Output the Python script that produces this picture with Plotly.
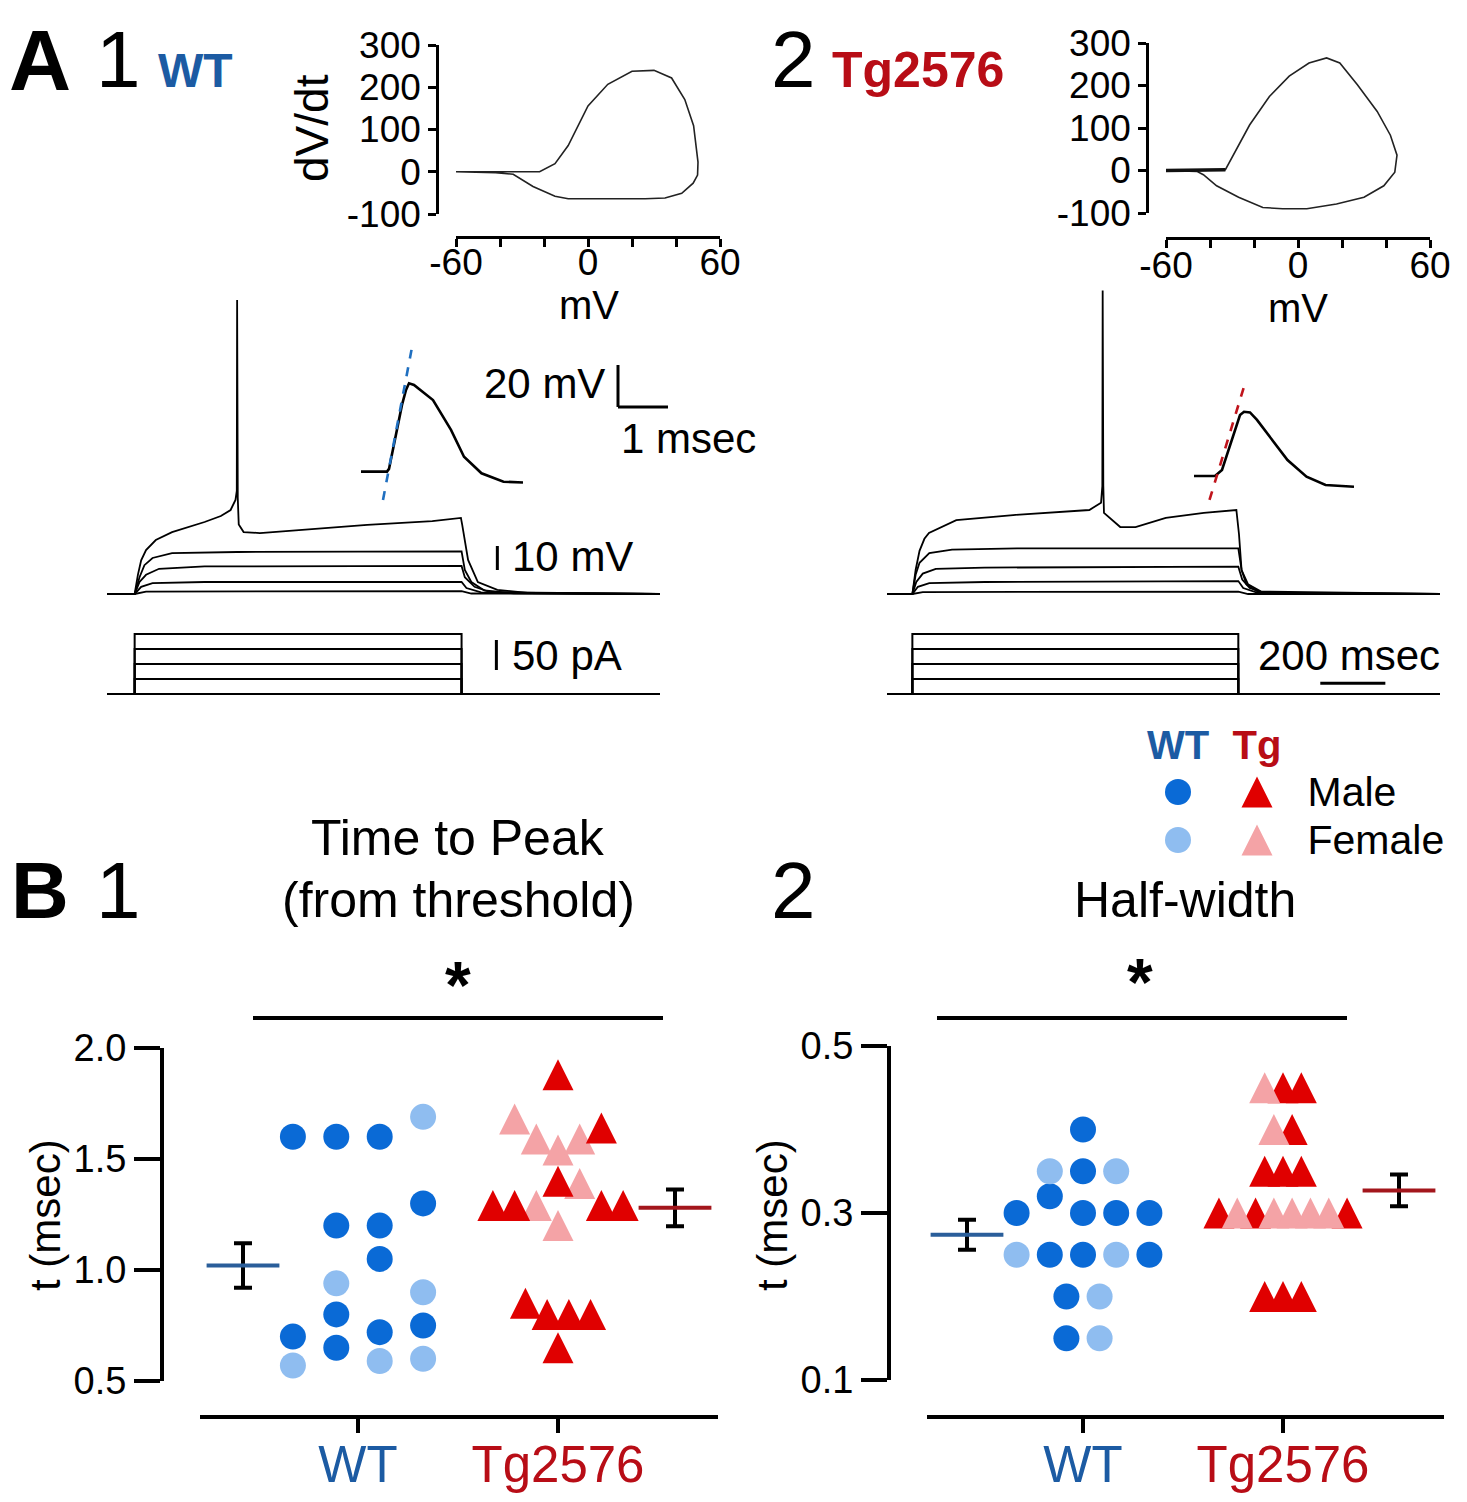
import plotly.graph_objects as go

W, H = 1467, 1502
FONT = "Liberation Sans"

# colours
BLUE_M = "#0a6ad6"
BLUE_F = "#8fbdf0"
RED_M = "#e00000"
RED_F = "#f4a3a6"
BLUE_TXT = "#1c5ba3"
RED_TXT = "#b80d16"
BLUE_MEAN = "#2a5e9a"
RED_MEAN = "#a3161c"

# ---------- A: phase plots (mV, dV/dt) ----------
wt_phase_v = [-60, -45, -30, -22, -15, -9, 0, 9, 20, 30, 38, 44, 48, 49.5, 50, 49.8,
              47.8, 42.6, 35, 26, 11, -9, -15, -25, -34, -42, -60]
wt_phase_dvdt = [0, 0, 0, 0, 19, 62, 156, 207, 238, 240, 222, 171, 109, 47, 23, -8,
                 -27, -51, -62, -64, -64, -64, -58, -35, -6, -2, 0]
tg_phase_v = [-60, -45, -33, -28, -22, -13, -4, 5, 13, 19, 27, 36, 42, 45, 44, 39,
              30, 17.5, 4, -7, -16, -27, -37, -43, -46, -60]
tg_phase_dvdt = [0, 0, 2, 51, 107, 174, 222, 253, 265, 253, 202, 139, 83, 36, -4, -36,
                 -63, -79, -90, -90, -87, -63, -36, -10, -2, 0]
phase_xticks = [-60, -40, -20, 0, 20, 40, 60]
phase_xlabels = ["-60", "", "", "0", "", "", "60"]
phase_yticks = [-100, 0, 100, 200, 300]
phase_ylabels = ["-100", "0", "100", "200", "300"]

# ---------- A: voltage responses (ms, mV) ----------
wt_t1 = [0, 85, 95, 105, 120, 150, 200, 250, 300, 350, 380, 395, 399, 400, 402, 405, 420,
         470, 600, 800, 1000, 1088, 1092, 1110, 1140, 1200, 1300, 1700]
wt_v1 = [-65, -65, -57, -51, -46.7, -42.5, -39.2, -37.1, -35, -32.5, -30, -25.8, -22, 57.5,
         -25, -36, -39.2, -39.6, -38.3, -36.2, -34.6, -33.3, -36.2, -50.8, -60, -63.3, -64.6, -65]
wt_t2 = [0, 85, 100, 115, 140, 200, 400, 1090, 1100, 1120, 1160, 1250, 1700]
wt_v2 = [-65, -65, -58, -53, -50, -48, -47.5, -47.2, -55, -60, -63.5, -64.7, -65]
wt_t3 = [0, 85, 100, 120, 160, 300, 1090, 1100, 1130, 1180, 1700]
wt_v3 = [-65, -65, -60, -57, -54.5, -53.5, -53.3, -58, -62, -64.3, -65]
wt_t4 = [0, 85, 105, 140, 300, 1090, 1105, 1150, 1700]
wt_v4 = [-65, -65, -62, -60.5, -60, -60, -62.5, -64.3, -65]
wt_t5 = [0, 85, 120, 1090, 1120, 1700]
wt_v5 = [-65, -65, -64, -63.8, -64.8, -65]

tg_t1 = [0, 78, 88, 100, 115, 129, 213, 388, 622, 658, 662, 663, 665, 667, 717, 764, 857,
         974, 1074, 1082, 1090, 1105, 1140, 1200, 1700]
tg_v1 = [-65, -65, -55, -47, -42, -39.6, -34.2, -32.1, -30, -27, -20, 61.5, -20, -31.2,
         -37.1, -37.1, -33.3, -31.2, -30, -40, -55, -61, -64, -65, -65]
tg_t2 = [0, 78, 88, 100, 130, 200, 400, 1080, 1090, 1110, 1150, 1700]
tg_v2 = [-65, -65, -57, -52, -48, -46.5, -46, -46, -55, -61, -64, -65]
tg_t3 = [0, 78, 90, 110, 150, 300, 1080, 1092, 1115, 1160, 1700]
tg_v3 = [-65, -65, -60, -56.5, -54.5, -54, -53.6, -59, -62.5, -64.5, -65]
tg_t4 = [0, 78, 95, 130, 300, 1080, 1095, 1140, 1700]
tg_v4 = [-65, -65, -62, -60.5, -60, -59.6, -62.5, -64.5, -65]
tg_t5 = [0, 78, 110, 1080, 1110, 1700]
tg_v5 = [-65, -65, -64.2, -64, -65, -65]

# current steps (pA) and step timing (ms)
step_pA = [25, 50, 75, 100]
wt_step_on, wt_step_off = 85, 1090
tg_step_on, tg_step_off = 78, 1080
sweep_end = 1700

# ---------- A: single action potential insets (ms, mV) ----------
wt_ap_t = [0.42, 0.94, 0.98, 1.10, 1.24, 1.32, 1.38, 1.48, 1.60, 1.86, 2.22, 2.48, 2.83, 3.27, 3.66]
wt_ap_v = [-30, -30, -28.7, -14.9, 1.8, 8.9, 12.1, 11.3, 8.9, 4.1, -10.1, -22.9, -30.8, -34.8, -35.2]
wt_slope_t = [0.86, 1.43]
wt_slope_v = [-43.5, 28]
tg_ap_t = [0.48, 0.90, 1.04, 1.24, 1.40, 1.48, 1.60, 1.74, 2.04, 2.35, 2.73, 3.11, 3.68]
tg_ap_v = [-30, -30, -27.1, -12.9, -0.95, 0.6, 0.3, -3.3, -12.9, -22.4, -30.3, -34.3, -35.1]
tg_slope_t = [0.79, 1.51]
tg_slope_v = [-41.4, 14.9]

# ---------- B1: time to peak (msec) ----------
ttp_wt_m = [1.60, 1.60, 1.60, 1.20, 1.20, 1.05, 1.30, 0.80, 0.70, 0.65, 0.72, 0.75]
ttp_wt_m_slot = [-3, -1, 1, -1, 1, 1, 3, -1, -3, -1, 1, 3]
ttp_wt_f = [1.69, 0.94, 0.90, 0.57, 0.59, 0.60]
ttp_wt_f_slot = [3, -1, 3, -3, 1, 3]
ttp_tg_m = [1.88, 1.64, 1.40, 1.29, 1.29, 1.29, 1.29, 0.85, 0.80, 0.80, 0.80, 0.65]
ttp_tg_m_slot = [0, 2, 0, -3, -2, 2, 3, -1.5, -0.5, 0.5, 1.5, 0]
ttp_tg_f = [1.68, 1.59, 1.54, 1.59, 1.39, 1.29, 1.20]
ttp_tg_f_slot = [-2, -1, 0, 1, 1, -1, 0]
ttp_mean = [1.02, 1.28]
ttp_sem = [0.10, 0.083]

# ---------- B2: half-width (msec) ----------
hw_wt_m = [0.40, 0.35, 0.32, 0.30, 0.30, 0.30, 0.30, 0.25, 0.25, 0.25, 0.20, 0.15]
hw_wt_m_slot = [0, 0, -2, -4, 0, 2, 4, -2, 0, 4, -1, -1]
hw_wt_f = [0.35, 0.35, 0.25, 0.25, 0.20, 0.15]
hw_wt_f_slot = [-2, 2, -4, 2, 1, 1]
hw_tg_m = [0.45, 0.45, 0.40, 0.35, 0.35, 0.35, 0.30, 0.30, 0.30, 0.20, 0.20, 0.20]
hw_tg_m_slot = [0, 2, 1, -2, 0, 2, -7, -3, 7, -2, 0, 2]
hw_tg_f = [0.45, 0.40, 0.30, 0.30, 0.30, 0.30, 0.30]
hw_tg_f_slot = [-2, -1, -5, -1, 1, 3, 5]
hw_mean = [0.274, 0.327]
hw_sem = [0.018, 0.019]

legend_groups = ["WT", "Tg"]
legend_sexes = ["Male", "Female"]


def px(x):
    return x / W


def py(y):
    return 1 - y / H


fig = go.Figure()


def line(xs, ys, ax, width=2.0, color="black", dash=None):
    fig.add_trace(go.Scatter(x=xs, y=ys, mode="lines", xaxis="x" + ax, yaxis="y" + ax,
                             line=dict(color=color, width=width, dash=dash),
                             hoverinfo="skip", showlegend=False))


# phase plots
line(wt_phase_v, wt_phase_dvdt, "1", width=1.6, color="#222")
line(tg_phase_v, tg_phase_dvdt, "2", width=1.6, color="#222")
line(tg_phase_v[:3], tg_phase_dvdt[:3], "2", width=3.5, color="#111")

# voltage sweeps
for t, v in [(wt_t1, wt_v1), (wt_t2, wt_v2), (wt_t3, wt_v3), (wt_t4, wt_v4), (wt_t5, wt_v5)]:
    line(t, v, "3", width=1.8)
for t, v in [(tg_t1, tg_v1), (tg_t2, tg_v2), (tg_t3, tg_v3), (tg_t4, tg_v4), (tg_t5, tg_v5)]:
    line(t, v, "6", width=1.8)

# current steps
for ax, on, off in [("4", wt_step_on, wt_step_off), ("7", tg_step_on, tg_step_off)]:
    line([0, sweep_end], [0, 0], ax, width=2.2)
    for amp in step_pA:
        line([0, on, on, off, off, sweep_end], [0, 0, amp, amp, 0, 0], ax, width=2.0)

# AP insets
line(wt_ap_t, wt_ap_v, "5", width=2.6)
line(wt_slope_t, wt_slope_v, "5", width=2.6, color="#1f6fc0", dash="dash")
line(tg_ap_t, tg_ap_v, "8", width=2.6)
line(tg_slope_t, tg_slope_v, "8", width=2.6, color="#c0141c", dash="dash")

CIRC, TRI = 26, 31


def marker_style(kind, color):
    # GraphPad-like triangles: a flipped arrow-down, pushed back so it is centred on the point
    if kind == "tri":
        return dict(symbol="arrow-down", angle=180, standoff=TRI / 2, size=TRI, color=color,
                    opacity=1, line=dict(width=0))
    return dict(symbol="circle", size=CIRC, color=color, opacity=1, line=dict(width=0))


def swarm(vals, slots, center, spacing, ax, kind, color):
    fig.add_trace(go.Scatter(
        x=[center + s * spacing for s in slots], y=vals, mode="markers",
        xaxis="x" + ax, yaxis="y" + ax, cliponaxis=False, showlegend=False,
        marker=marker_style(kind, color)))


def mean_bar(pos, mean, sem, ax, color):
    fig.add_trace(go.Scatter(
        x=[pos], y=[mean], mode="markers", xaxis="x" + ax, yaxis="y" + ax,
        cliponaxis=False, showlegend=False,
        error_y=dict(type="data", array=[sem], color="black", thickness=4, width=9),
        marker=dict(symbol="line-ew", size=52, line=dict(width=4, color=color))))


# B1
swarm(ttp_wt_m, ttp_wt_m_slot, 0, 0.1085, "9", "circ", BLUE_M)
swarm(ttp_wt_f, ttp_wt_f_slot, 0, 0.1085, "9", "circ", BLUE_F)
swarm(ttp_tg_f, ttp_tg_f_slot, 1, 0.1085, "9", "tri", RED_F)
swarm(ttp_tg_m, ttp_tg_m_slot, 1, 0.1085, "9", "tri", RED_M)
mean_bar(-0.575, ttp_mean[0], ttp_sem[0], "9", BLUE_MEAN)
mean_bar(1.585, ttp_mean[1], ttp_sem[1], "9", RED_MEAN)
# B2
swarm(hw_wt_m, hw_wt_m_slot, 0, 0.083, "10", "circ", BLUE_M)
swarm(hw_wt_f, hw_wt_f_slot, 0, 0.083, "10", "circ", BLUE_F)
swarm(hw_tg_m, hw_tg_m_slot, 1, 0.04575, "10", "tri", RED_M)
swarm(hw_tg_f, hw_tg_f_slot, 1, 0.04575, "10", "tri", RED_F)
mean_bar(-0.58, hw_mean[0], hw_sem[0], "10", BLUE_MEAN)
mean_bar(1.58, hw_mean[1], hw_sem[1], "10", RED_MEAN)

# legend grid (group x sex)
for sex, cols in [("Male", (BLUE_M, RED_M)), ("Female", (BLUE_F, RED_F))]:
    for grp, kind, col in zip(legend_groups, ("circ", "tri"), cols):
        fig.add_trace(go.Scatter(x=[grp], y=[sex], mode="markers", xaxis="x11", yaxis="y11",
                                 cliponaxis=False, showlegend=False, marker=marker_style(kind, col)))

hidden = dict(visible=False, showgrid=False, zeroline=False, fixedrange=True, automargin=False)


def dom_x(a, b):
    return [px(a), px(b)]


def dom_y(top, bottom):
    return [py(bottom), py(top)]


phase_common = dict(showline=True, linecolor="black", linewidth=2.5, ticks="outside", ticklen=8,
                    tickwidth=2.5, tickcolor="black", showgrid=False, zeroline=False,
                    automargin=False, tickfont=dict(size=37, color="black", family=FONT),
                    anchor="free")
B_common = dict(showline=True, linecolor="black", linewidth=4, ticks="outside", tickwidth=4,
                tickcolor="black", showgrid=False, zeroline=False, anchor="free", automargin=False,
                tickfont=dict(size=38, color="black", family=FONT))
group_ticktext = [f"<span style='color:{BLUE_TXT}'>WT</span>",
                  f"<span style='color:{RED_TXT}'>Tg2576</span>"]

layout = dict(
    width=W, height=H, margin=dict(l=0, r=0, t=0, b=0, pad=0, autoexpand=False),
    paper_bgcolor="white", plot_bgcolor="rgba(0,0,0,0)",
    font=dict(family=FONT, color="black"),
    showlegend=False,
    # phase WT
    xaxis=dict(domain=dom_x(456, 720), range=[-60, 60], tickvals=phase_xticks, ticktext=phase_xlabels,
               position=py(237), ticklabelstandoff=-16, **phase_common),
    yaxis=dict(domain=dom_y(45, 214), range=[-100, 300], tickvals=phase_yticks, ticktext=phase_ylabels,
               position=px(437), **phase_common),
    # phase Tg
    xaxis2=dict(domain=dom_x(1166, 1430), range=[-60, 60], tickvals=phase_xticks, ticktext=phase_xlabels,
                position=py(238), ticklabelstandoff=-14, **phase_common),
    yaxis2=dict(domain=dom_y(43, 213), range=[-100, 300], tickvals=phase_yticks, ticktext=phase_ylabels,
                position=px(1147), **phase_common),
    # sweeps
    xaxis3=dict(domain=dom_x(107, 660), range=[0, 1700], anchor="y3", **hidden),
    yaxis3=dict(domain=dom_y(285, 600), range=[-67.5, 63.75], anchor="x3", **hidden),
    xaxis4=dict(domain=dom_x(107, 660), range=[0, 1700], anchor="y4", **hidden),
    yaxis4=dict(domain=dom_y(625, 700), range=[-10, 115], anchor="x4", **hidden),
    xaxis5=dict(domain=dom_x(340, 680), range=[0, 6.8], anchor="y5", **hidden),
    yaxis5=dict(domain=dom_y(340, 505), range=[-45.9, 32.7], anchor="x5", **hidden),
    xaxis6=dict(domain=dom_x(887, 1440), range=[0, 1700], anchor="y6", **hidden),
    yaxis6=dict(domain=dom_y(285, 600), range=[-67.5, 63.75], anchor="x6", **hidden),
    xaxis7=dict(domain=dom_x(887, 1440), range=[0, 1700], anchor="y7", **hidden),
    yaxis7=dict(domain=dom_y(625, 700), range=[-10, 115], anchor="x7", **hidden),
    xaxis8=dict(domain=dom_x(1170, 1400), range=[0, 4.6], anchor="y8", **hidden),
    yaxis8=dict(domain=dom_y(370, 505), range=[-43.8, 20.48], anchor="x8", **hidden),
    # B1
    xaxis9=dict(domain=dom_x(200, 718), range=[-0.79, 1.8], tickvals=[0, 1], ticklen=14,
                ticktext=group_ticktext, position=py(1417), ticklabelstandoff=-12,
                **{**B_common, "tickfont": dict(size=51, family=FONT)}),
    yaxis9=dict(domain=dom_y(1048, 1381), range=[0.5, 2.0], tickvals=[0.5, 1.0, 1.5, 2.0],
                ticktext=["0.5", "1.0", "1.5", "2.0"], ticklen=26, position=px(162), **B_common),
    # B2
    xaxis10=dict(domain=dom_x(927, 1444), range=[-0.78, 1.805], tickvals=[0, 1], ticklen=14,
                 ticktext=group_ticktext, position=py(1417), ticklabelstandoff=-12,
                 **{**B_common, "tickfont": dict(size=51, family=FONT)}),
    yaxis10=dict(domain=dom_y(1046, 1380), range=[0.1, 0.5], tickvals=[0.1, 0.3, 0.5],
                 ticktext=["0.1", "0.3", "0.5"], ticklen=26, position=px(889), **B_common),
    # legend grid
    xaxis11=dict(domain=dom_x(1138.5, 1296.5), type="category", categoryorder="array",
                 categoryarray=legend_groups, range=[-0.5, 1.5], anchor="y11", side="top",
                 showline=False, ticks="", showgrid=False, zeroline=False, tickmode="array",
                 tickvals=legend_groups,
                 ticktext=[f"<b><span style='color:{BLUE_TXT}'>WT</span></b>",
                           f"<b><span style='color:{RED_TXT}'>Tg</span></b>"],
                 tickfont=dict(size=40, family=FONT), fixedrange=True, automargin=False),
    yaxis11=dict(domain=dom_y(768, 864), type="category", categoryorder="array",
                 categoryarray=legend_sexes[::-1], range=[-0.5, 1.5], anchor="x11", side="right",
                 showline=False, ticks="", showgrid=False, zeroline=False, tickmode="array",
                 tickvals=legend_sexes, ticktext=legend_sexes, automargin=False, ticklabelstandoff=10,
                 tickfont=dict(size=41, family=FONT, color="black"), fixedrange=True),
)
fig.update_layout(**layout)


def note(text, x, y, size, xanchor="center", color="black", bold=False, angle=0):
    if bold:
        text = f"<b>{text}</b>"
    fig.add_annotation(text=text, x=px(x), y=py(y), xref="paper", yref="paper",
                       xanchor=xanchor, yanchor="middle", showarrow=False, textangle=angle,
                       font=dict(size=size, color=color, family=FONT))


note("A", 40, 60, 86, bold=True)
note("1", 118, 60, 80)
note("WT", 195, 70, 48, color=BLUE_TXT, bold=True)
note("2", 793, 60, 80)
note("Tg2576", 918, 70, 50, color=RED_TXT, bold=True)
note("dV/dt", 312, 128, 46, angle=-90)
note("mV", 589, 305, 40)
note("mV", 1298, 308, 40)
note("20 mV", 607, 383, 42, xanchor="right")
note("1 msec", 688, 438, 42)
note("10 mV", 510, 557, 42, xanchor="left")
note("50 pA", 510, 655, 42, xanchor="left")
note("200 msec", 1256, 655, 42, xanchor="left")
note("B", 40, 890, 80, bold=True)
note("1", 118, 890, 80)
note("Time to Peak", 458, 838, 50)
note("(from threshold)", 458, 900, 50)
note("2", 793, 890, 80)
note("Half-width", 1185, 900, 50)
note("*", 458, 985, 66, bold=True)
note("*", 1140, 982, 66, bold=True)
note("t (msec)", 45, 1215, 42, angle=-90)
note("t (msec)", 772, 1215, 42, angle=-90)

# significance bars
for x0, x1 in [(253, 663), (937, 1347)]:
    fig.add_shape(type="line", xref="paper", yref="paper", x0=px(x0), x1=px(x1), y0=py(1018), y1=py(1018),
                  line=dict(color="black", width=4))

# scale bars drawn in the sweep / inset axes
fig.add_shape(type="line", xref="x5", yref="y5", x0=5.56, x1=5.56, y0=0.8, y1=20.8, line=dict(width=3, color="black"))
fig.add_shape(type="line", xref="x5", yref="y5", x0=5.56, x1=6.56, y0=0.8, y1=0.8, line=dict(width=3, color="black"))
fig.add_shape(type="line", xref="x3", yref="y3", x0=1200, x1=1200, y0=-55, y1=-45, line=dict(width=3, color="black"))
fig.add_shape(type="line", xref="x4", yref="y4", x0=1197, x1=1197, y0=40, y1=90, line=dict(width=3, color="black"))
fig.add_shape(type="line", xref="x7", yref="y7", x0=1332, x1=1532, y0=18, y1=18, line=dict(width=3, color="black"))

# drop the default page margin so the figure sits at the top-left corner
fig.write_html("out.html", config={"displayModeBar": False},
               post_script="document.body.style.margin='0';")
